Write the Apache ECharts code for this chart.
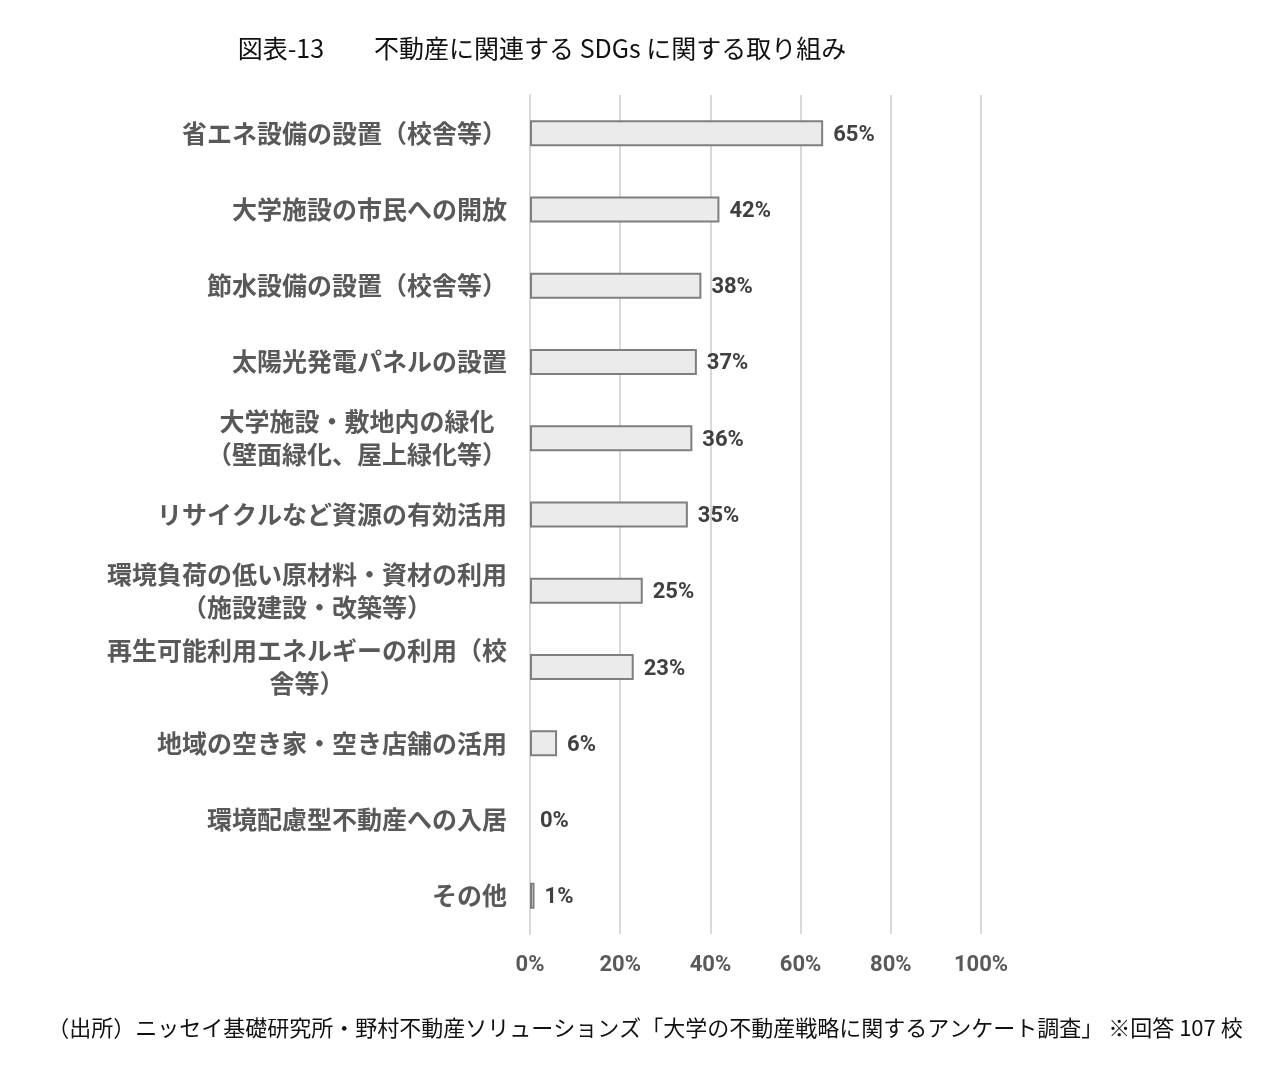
<!DOCTYPE html>
<html>
<head>
<meta charset="utf-8">
<script src="https://cdn.jsdelivr.net/npm/echarts@6/dist/echarts.min.js"></script>
<style>
  html, body { margin: 0; padding: 0; background: #fff; }
  #chart { width: 1273px; height: 1071px; }
</style>
</head>
<body>
<div id="chart"></div>
<script>
// 項目
var categories = [
  '省エネ設備の設置（校舎等）',
  '大学施設の市民への開放',
  '節水設備の設置（校舎等）',
  '太陽光発電パネルの設置',
  '大学施設・敷地内の緑化\n（壁面緑化、屋上緑化等）',
  'リサイクルなど資源の有効活用',
  '環境負荷の低い原材料・資材の利用\n（施設建設・改築等）',
  '再生可能利用エネルギーの利用（校\n舎等）',
  '地域の空き家・空き店舗の活用',
  '環境配慮型不動産への入居',
  'その他'
];
// 回答割合（%）
var values = [65, 42, 38, 37, 36, 35, 25, 23, 6, 0, 1];
// 横軸目盛
var xTicks = [0, 20, 40, 60, 80, 100];

var cjk = '"Noto Sans CJK JP", "Noto Sans", sans-serif';
var narrow = '"Liberation Sans Narrow", "Roboto", sans-serif';

// 0%の項目は枠線を描かない
var barData = values.map(function (v) {
  return v === 0 ? { value: v, itemStyle: { borderWidth: 0 } } : v;
});

var chart = echarts.init(document.getElementById('chart'));
var option = {
  backgroundColor: '#fff',
  animation: false,
  title: [{
    text: '図表-13　　不動産に関連する SDGs に関する取り組み',
    left: 537,
    top: 31,
    textAlign: 'center',
    textStyle: { fontFamily: cjk, fontSize: 25, fontWeight: 'normal', color: '#111' }
  }, {
    text: '（出所）ニッセイ基礎研究所・野村不動産ソリューションズ「大学の不動産戦略に関するアンケート調査」 ※回答 107 校',
    left: 640,
    top: 1012,
    textAlign: 'center',
    textStyle: { fontFamily: cjk, fontSize: 22, fontWeight: 'normal', color: '#111' }
  }],
  grid: { left: 530, right: 292, top: 95, bottom: 137, containLabel: false },
  xAxis: {
    type: 'value',
    min: xTicks[0],
    max: xTicks[xTicks.length - 1],
    interval: 20,
    axisLine: { show: false },
    axisTick: { show: false },
    splitLine: { lineStyle: { color: '#d9d9d9', width: 2 } },
    axisLabel: {
      margin: 20,
      formatter: '{value}%',
      fontFamily: narrow,
      fontWeight: 'bold',
      fontSize: 22,
      color: '#595959'
    }
  },
  yAxis: {
    type: 'category',
    inverse: true,
    data: categories,
    axisLine: { show: true, lineStyle: { color: '#d9d9d9', width: 2 } },
    axisTick: { show: false },
    axisLabel: {
      margin: 23,
      fontFamily: cjk,
      fontWeight: 'bold',
      fontSize: 25,
      color: '#595959',
      lineHeight: 33,
      formatter: function (v) {
        var lines = v.split('\n');
        if (lines.length === 1) return v;
        return lines.map(function (l) { return '{c|' + l + '}'; }).join('\n');
      },
      rich: {
        c: { align: 'center', fontFamily: cjk, fontWeight: 'bold', fontSize: 25, color: '#595959', lineHeight: 33 }
      }
    }
  },
  series: [{
    type: 'bar',
    data: barData,
    barWidth: 26,
    itemStyle: { color: '#ebebeb', borderColor: '#7f7f7f', borderWidth: 2 },
    label: {
      show: true,
      position: 'right',
      distance: 10,
      offset: [0, 2],
      formatter: '{c}%',
      fontFamily: narrow,
      fontWeight: 'bold',
      fontSize: 22,
      color: '#404040'
    }
  }]
};
chart.setOption(option);
</script>
</body>
</html>
